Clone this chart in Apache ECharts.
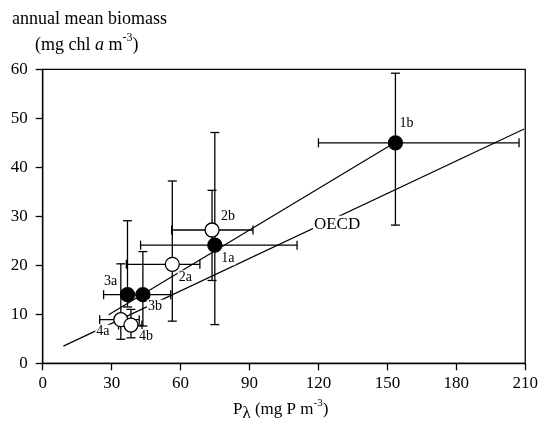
<!DOCTYPE html>
<html>
<head>
<meta charset="utf-8">
<script src="https://cdn.jsdelivr.net/npm/echarts@6/dist/echarts.min.js"></script>
<style>
  html, body { margin: 0; padding: 0; background: #fff; }
  #chart { width: 541px; height: 421px; }
</style>
</head>
<body>
<div id="chart"></div>
<script>
// 数据：湖泊编号、实心/空心
const lakeNames = ['1a', '1b', '2a', '2b', '3a', '3b', '4a', '4b'];
const filled = [true, true, false, false, true, true, false, false];

// P 与生物量均值
const pValues = [74.9, 153.5, 56.4, 73.7, 36.9, 43.6, 34.0, 38.4];
const chlValues = [24.1, 45.0, 20.2, 27.2, 14.0, 14.0, 8.9, 7.8];

// 误差范围
const pLow = [42.6, 120.0, 36.4, 56.1, 26.5, 37.0, 24.8, 33.0];
const pHigh = [110.7, 207.3, 68.4, 91.5, 44.0, 55.7, 42.0, 43.2];
const chlLow = [7.9, 28.2, 8.6, 16.9, 11.5, 7.6, 4.9, 5.2];
const chlHigh = [47.1, 59.2, 37.2, 35.3, 29.1, 22.8, 20.3, 11.0];

// 回归线与 OECD 线端点
const fitX = [28.7, 153.5];
const fitY = [9.9, 45.1];
const oecdX = [9.0, 209.5];
const oecdY = [3.5, 47.8];
const oecdLabelPos = [128.1, 28.4];

// 坐标轴刻度
const xTicks = { min: 0, max: 210, interval: 30 };
const yTicks = { min: 0, max: 60, interval: 10 };

// 标签偏移（样式）
const labelOffsets = {
  '1a': [13, 13], '1b': [11, -19], '2a': [13, 13], '2b': [16, -14],
  '3a': [-17, -13], '3b': [12, 12], '4a': [-18, 12], '4b': [15, 11]
};

const FONT = 'Liberation Serif';
const chart = echarts.init(document.getElementById('chart'));

// 误差线
function renderErrorBar(params, api) {
  const p = api.coord([api.value(0), api.value(1)]);
  const xl = api.coord([api.value(2), api.value(1)]);
  const xh = api.coord([api.value(3), api.value(1)]);
  const yl = api.coord([api.value(0), api.value(4)]);
  const yh = api.coord([api.value(0), api.value(5)]);
  const cap = 4.5;
  const style = { stroke: '#000', lineWidth: 1.3 };
  const line = (x1, y1, x2, y2) => ({ type: 'line', shape: { x1, y1, x2, y2 }, style });
  return {
    type: 'group',
    children: [
      line(xl[0], p[1], xh[0], p[1]),
      line(xl[0], p[1] - cap, xl[0], p[1] + cap),
      line(xh[0], p[1] - cap, xh[0], p[1] + cap),
      line(p[0], yl[1], p[0], yh[1]),
      line(p[0] - cap, yl[1], p[0] + cap, yl[1]),
      line(p[0] - cap, yh[1], p[0] + cap, yh[1])
    ]
  };
}

const errorData = lakeNames.map((n, i) => [pValues[i], chlValues[i], pLow[i], pHigh[i], chlLow[i], chlHigh[i]]);

const pointData = lakeNames.map((n, i) => ({
  name: n,
  value: [pValues[i], chlValues[i]],
  itemStyle: { color: filled[i] ? '#000' : '#fff', borderColor: '#000', borderWidth: 1.3, opacity: 1 },
  label: { offset: labelOffsets[n] }
}));

const labelStyle = {
  fontFamily: FONT, fontSize: 14, color: '#000', opacity: 1,
  backgroundColor: '#fff', padding: [0, 1]
};

const option = {
  animation: false,
  grid: {
    left: 42.7, right: 13.7, top: 69.3, bottom: 57.7,
    show: true, borderColor: '#000', borderWidth: 1.3, backgroundColor: 'transparent'
  },
  xAxis: {
    type: 'value', min: xTicks.min, max: xTicks.max, interval: xTicks.interval,
    axisLine: { lineStyle: { color: '#000', width: 1.3 } },
    axisTick: { length: 7, lineStyle: { color: '#000', width: 1.3 } },
    axisLabel: { fontFamily: FONT, fontSize: 17, color: '#000', margin: 12 },
    splitLine: { show: false }
  },
  yAxis: {
    type: 'value', min: yTicks.min, max: yTicks.max, interval: yTicks.interval,
    axisLine: { lineStyle: { color: '#000', width: 1.3 } },
    axisTick: { length: 7, lineStyle: { color: '#000', width: 1.3 } },
    axisLabel: { fontFamily: FONT, fontSize: 17, color: '#000', margin: 15 },
    splitLine: { show: false }
  },
  series: [
    {
      type: 'line', z: 1, silent: true, symbol: 'none',
      lineStyle: { color: '#000', width: 1.2 },
      data: fitX.map((x, i) => [x, fitY[i]])
    },
    {
      type: 'line', z: 1, silent: true, symbol: 'none',
      lineStyle: { color: '#000', width: 1.2 },
      data: oecdX.map((x, i) => [x, oecdY[i]])
    },
    {
      type: 'custom', z: 2, silent: true,
      renderItem: renderErrorBar,
      encode: { x: [0, 2, 3], y: [1, 4, 5] },
      data: errorData
    },
    {
      type: 'scatter', z: 3, silent: true,
      symbol: 'circle', symbolSize: 14,
      itemStyle: { opacity: 1 },
      label: Object.assign({ show: true, position: 'inside', formatter: p => p.name }, labelStyle),
      data: pointData
    },
    {
      type: 'scatter', z: 3, silent: true,
      symbolSize: 1, itemStyle: { color: 'rgba(0,0,0,0)', opacity: 1 },
      label: Object.assign({ show: true, position: 'inside', formatter: 'OECD' }, labelStyle, { fontSize: 17 }),
      data: [oecdLabelPos]
    }
  ],
  graphic: [
    {
      type: 'text', left: 12, top: 10,
      style: { text: 'annual mean biomass', fontFamily: FONT, fontSize: 18, fill: '#000' }
    },
    {
      type: 'text', left: 35, top: 32,
      style: {
        text: '{n|(mg chl }{i|a}{n| m}{s|-3}{n|)}',
        rich: {
          n: { fontFamily: FONT, fontSize: 18, lineHeight: 22, verticalAlign: 'bottom', fill: '#000' },
          i: { fontFamily: FONT, fontSize: 18, fontStyle: 'italic', lineHeight: 22, verticalAlign: 'bottom', fill: '#000' },
          s: { fontFamily: FONT, fontSize: 12, lineHeight: 14, verticalAlign: 'top', fill: '#000' }
        }
      }
    },
    {
      type: 'text', left: 233, top: 398,
      style: {
        text: '{n|P}{l|λ}{n| (mg P m}{s|-3}{n|)}',
        rich: {
          n: { fontFamily: FONT, fontSize: 17, lineHeight: 24, verticalAlign: 'middle', fill: '#000' },
          l: { fontFamily: FONT, fontSize: 17, lineHeight: 18, verticalAlign: 'bottom', fill: '#000' },
          s: { fontFamily: FONT, fontSize: 11, lineHeight: 14, verticalAlign: 'top', fill: '#000' }
        }
      }
    }
  ]
};

chart.setOption(option);
</script>
</body>
</html>
